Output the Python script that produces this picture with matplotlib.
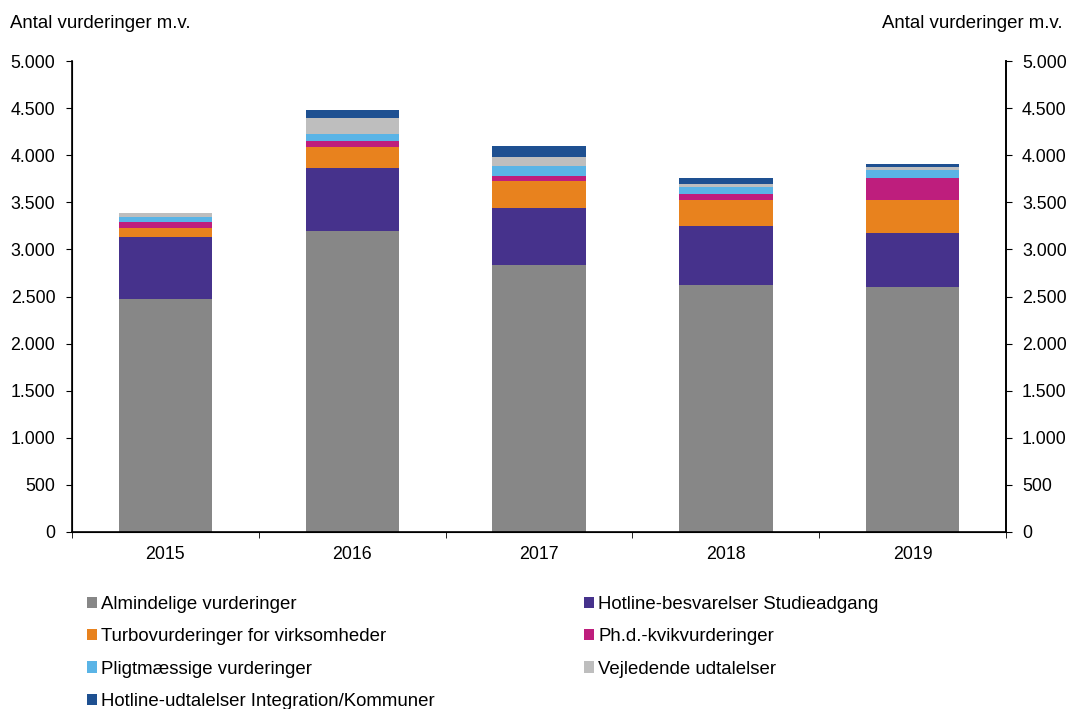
import matplotlib
matplotlib.use("Agg")
import matplotlib.pyplot as plt
import numpy as np
from matplotlib.ticker import FuncFormatter

plt.rcParams['font.family'] = ['Liberation Sans', 'DejaVu Sans']

years = ['2015', '2016', '2017', '2018', '2019']
series_names = [
    'Almindelige vurderinger',
    'Hotline-besvarelser Studieadgang',
    'Turbovurderinger for virksomheder',
    'Ph.d.-kvikvurderinger',
    'Pligtmæssige vurderinger',
    'Vejledende udtalelser',
    'Hotline-udtalelser Integration/Kommuner',
]
almindelige = [2473, 3195, 2834, 2622, 2601]
hotline_studie = [659, 669, 609, 630, 577]
turbo = [95, 223, 287, 269, 346]
phd = [64, 67, 53, 71, 237]
pligt = [56, 74, 102, 74, 85]
vejledende = [43, 170, 99, 32, 29]
hotline_integ = [0, 82, 114, 60, 28]
colors = ['#878787', '#46328C', '#E8821E', '#BE1E7D', '#5AB4E6', '#BEBEBE', '#1E5091']

all_series = [almindelige, hotline_studie, turbo, phd, pligt, vejledende, hotline_integ]
fs = 13.4
tfs = 12.8

fig = plt.figure(figsize=(10.72, 7.09), dpi=100)
ax = fig.add_axes([72 / 1072, 1 - 532 / 709, 934 / 1072, 471 / 709])
x = np.arange(len(years))
bottom = np.zeros(len(years))
handles = []
for vals, name, c in zip(all_series, series_names, colors):
    b = ax.bar(x, vals, bottom=bottom, width=0.5, color=c, label=name)
    handles.append(b)
    bottom += np.array(vals)

ax.set_xlim(-0.5, 4.5)
ax.set_ylim(0, 5000)
ax.set_yticks(np.arange(0, 5001, 500))
fmt = FuncFormatter(lambda v, p: f'{int(v):,}'.replace(',', '.'))
ax.yaxis.set_major_formatter(fmt)
ax.set_xticks(x)
ax.set_xticklabels(years)
ax.set_xticks(np.arange(-0.5, 5, 1), minor=True)
ax.tick_params(axis='x', which='major', length=0, labelsize=tfs, pad=10)
ax.tick_params(axis='x', which='minor', length=4.5, direction='out')
ax.tick_params(axis='y', length=4.5, labelsize=tfs, direction='out', pad=7.5)
ax.spines['top'].set_visible(False)
for s in ['left', 'right', 'bottom']:
    ax.spines[s].set_linewidth(1.2)

ax2 = ax.twinx()
ax2.set_ylim(0, 5000)
ax2.set_yticks(np.arange(0, 5001, 500))
ax2.yaxis.set_major_formatter(fmt)
ax2.tick_params(axis='y', length=4.5, labelsize=tfs, direction='out', pad=7)
ax2.spines['top'].set_visible(False)
ax2.spines['right'].set_linewidth(1.2)

fig.text(10 / 1072, 1 - 24 / 709, 'Antal vurderinger m.v.', fontsize=fs, va='center', ha='left')
fig.text(1062 / 1072, 1 - 24 / 709, 'Antal vurderinger m.v.', fontsize=fs, va='center', ha='right')

# legend filled row by row
order = [0, 2, 4, 6, 1, 3, 5]
fig.legend(handles=[handles[i] for i in order], labels=[series_names[i] for i in order],
           loc='upper left', bbox_to_anchor=(70 / 1072, 1 - 579 / 709), ncol=2, frameon=False,
           fontsize=fs, handlelength=0.55, handleheight=0.55, handletextpad=0.2,
           columnspacing=8.05, labelspacing=0.83)

fig.savefig('out.png', dpi=100)
